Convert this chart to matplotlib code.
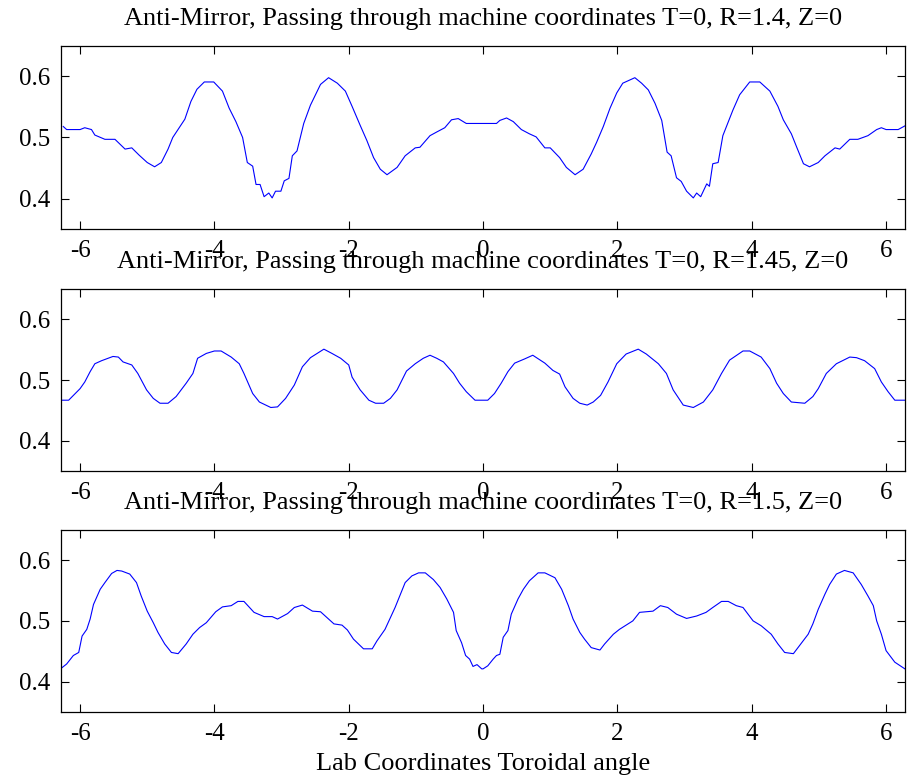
import matplotlib
matplotlib.use("Agg")
import matplotlib.pyplot as plt

# Curva R=1.4
ang_r140 = [-6.25, -6.20, -6.00, -5.93, -5.83, -5.78, -5.63, -5.48, -5.33, -5.23,
            -5.12, -5.00, -4.89, -4.79, -4.69, -4.62, -4.44, -4.35, -4.26, -4.15,
            -4.01, -3.88, -3.78, -3.68, -3.58, -3.51, -3.43, -3.38, -3.32, -3.26,
            -3.19, -3.14, -3.09, -3.01, -2.96, -2.89, -2.84, -2.77, -2.67, -2.57,
            -2.42, -2.30, -2.17, -2.05, -1.95, -1.83, -1.73, -1.63, -1.53, -1.43,
            -1.28, -1.16, -1.01, -0.94, -0.79, -0.69, -0.57, -0.47, -0.37, -0.25,
            0.00, 0.20, 0.25, 0.35, 0.45, 0.57, 0.69, 0.79, 0.92, 1.00,
            1.14, 1.24, 1.37, 1.49, 1.61, 1.69, 1.79, 1.89, 1.99, 2.08,
            2.26, 2.36, 2.46, 2.56, 2.66, 2.74, 2.80, 2.88, 2.95, 3.03,
            3.13, 3.18, 3.24, 3.33, 3.37, 3.42, 3.50, 3.57, 3.72, 3.82,
            3.97, 4.12, 4.27, 4.39, 4.47, 4.59, 4.67, 4.77, 4.86, 4.99,
            5.09, 5.24, 5.31, 5.46, 5.58, 5.73, 5.86, 5.93, 6.00, 6.18, 6.28]
val_r140 = [0.518, 0.513, 0.513, 0.516, 0.513, 0.504, 0.497, 0.497, 0.481, 0.483,
            0.471, 0.459, 0.452, 0.459, 0.481, 0.500, 0.530, 0.559, 0.579, 0.591,
            0.591, 0.576, 0.548, 0.526, 0.500, 0.459, 0.453, 0.423, 0.423, 0.403,
            0.409, 0.401, 0.412, 0.412, 0.429, 0.433, 0.470, 0.478, 0.523, 0.553,
            0.587, 0.598, 0.589, 0.576, 0.551, 0.520, 0.495, 0.467, 0.448, 0.439,
            0.451, 0.470, 0.483, 0.484, 0.503, 0.509, 0.516, 0.529, 0.531, 0.523,
            0.523, 0.523, 0.528, 0.532, 0.526, 0.513, 0.506, 0.501, 0.483, 0.483,
            0.467, 0.451, 0.439, 0.448, 0.473, 0.492, 0.518, 0.548, 0.573, 0.589,
            0.598, 0.589, 0.578, 0.556, 0.528, 0.476, 0.470, 0.434, 0.428, 0.412,
            0.401, 0.409, 0.403, 0.424, 0.420, 0.457, 0.459, 0.503, 0.545, 0.570,
            0.591, 0.591, 0.576, 0.551, 0.529, 0.506, 0.484, 0.457, 0.452, 0.459,
            0.470, 0.483, 0.481, 0.497, 0.497, 0.503, 0.513, 0.516, 0.513, 0.513, 0.519]

# Curva R=1.45
ang_r145 = [-6.28, -6.17, -6.00, -5.93, -5.85, -5.78, -5.68, -5.51, -5.43, -5.36,
            -5.23, -5.14, -5.01, -4.91, -4.81, -4.69, -4.57, -4.42, -4.32, -4.25,
            -4.12, -4.00, -3.90, -3.75, -3.63, -3.56, -3.43, -3.33, -3.16, -3.06,
            -2.94, -2.81, -2.69, -2.57, -2.37, -2.25, -2.12, -2.00, -1.95, -1.83,
            -1.70, -1.60, -1.48, -1.38, -1.28, -1.14, -1.01, -0.89, -0.79, -0.69,
            -0.59, -0.44, -0.35, -0.25, -0.12, 0.00, 0.07, 0.17, 0.27, 0.37,
            0.47, 0.62, 0.74, 0.92, 1.04, 1.14, 1.22, 1.34, 1.44, 1.55,
            1.64, 1.75, 1.86, 1.99, 2.13, 2.31, 2.43, 2.61, 2.73, 2.83,
            2.98, 3.13, 3.28, 3.42, 3.55, 3.67, 3.87, 3.97, 4.14, 4.27,
            4.37, 4.47, 4.59, 4.79, 4.91, 4.99, 5.11, 5.26, 5.46, 5.56,
            5.68, 5.83, 5.93, 6.03, 6.13, 6.28]
val_r145 = [0.467, 0.467, 0.486, 0.497, 0.514, 0.527, 0.532, 0.539, 0.538, 0.530,
            0.525, 0.511, 0.484, 0.470, 0.462, 0.462, 0.473, 0.495, 0.511, 0.536,
            0.544, 0.548, 0.548, 0.538, 0.527, 0.511, 0.478, 0.464, 0.455, 0.456,
            0.470, 0.492, 0.522, 0.537, 0.551, 0.544, 0.536, 0.525, 0.505, 0.484,
            0.467, 0.462, 0.462, 0.470, 0.484, 0.515, 0.527, 0.536, 0.541, 0.536,
            0.530, 0.511, 0.495, 0.481, 0.467, 0.467, 0.467, 0.478, 0.495, 0.514,
            0.528, 0.535, 0.541, 0.528, 0.516, 0.510, 0.489, 0.470, 0.462, 0.459,
            0.464, 0.475, 0.497, 0.527, 0.543, 0.551, 0.543, 0.527, 0.511, 0.484,
            0.459, 0.455, 0.464, 0.484, 0.511, 0.533, 0.548, 0.548, 0.538, 0.519,
            0.495, 0.478, 0.464, 0.462, 0.473, 0.486, 0.511, 0.527, 0.538, 0.537,
            0.532, 0.519, 0.497, 0.481, 0.467, 0.467]

# Curva R=1.5
ang_r150 = [-6.28, -6.20, -6.10, -6.02, -5.97, -5.90, -5.85, -5.80, -5.70, -5.63,
            -5.53, -5.45, -5.38, -5.26, -5.16, -5.09, -5.00, -4.91, -4.84, -4.74,
            -4.64, -4.54, -4.42, -4.32, -4.22, -4.12, -3.98, -3.88, -3.75, -3.65,
            -3.56, -3.41, -3.26, -3.14, -3.06, -2.91, -2.81, -2.69, -2.54, -2.42,
            -2.32, -2.22, -2.10, -2.02, -1.93, -1.78, -1.65, -1.58, -1.46, -1.38,
            -1.31, -1.23, -1.16, -1.06, -0.96, -0.86, -0.74, -0.64, -0.54, -0.44,
            -0.40, -0.32, -0.26, -0.20, -0.15, -0.09, -0.02, 0.00, 0.07, 0.15,
            0.20, 0.25, 0.30, 0.37, 0.42, 0.52, 0.60, 0.69, 0.82, 0.92,
            1.07, 1.17, 1.27, 1.34, 1.44, 1.51, 1.61, 1.74, 1.81, 1.94,
            2.03, 2.16, 2.23, 2.33, 2.53, 2.64, 2.75, 2.88, 3.03, 3.18,
            3.32, 3.42, 3.55, 3.65, 3.77, 3.87, 4.02, 4.14, 4.29, 4.39,
            4.49, 4.62, 4.71, 4.84, 4.91, 4.99, 5.09, 5.16, 5.26, 5.38,
            5.51, 5.63, 5.73, 5.81, 5.86, 5.93, 6.00, 6.13, 6.28]
val_r150 = [0.422, 0.429, 0.443, 0.448, 0.475, 0.486, 0.503, 0.527, 0.552, 0.563,
            0.578, 0.583, 0.582, 0.577, 0.563, 0.541, 0.516, 0.497, 0.481, 0.462,
            0.448, 0.446, 0.462, 0.478, 0.489, 0.497, 0.515, 0.523, 0.525, 0.532,
            0.532, 0.514, 0.507, 0.507, 0.503, 0.512, 0.522, 0.526, 0.516, 0.515,
            0.505, 0.495, 0.493, 0.485, 0.470, 0.454, 0.454, 0.467, 0.486, 0.505,
            0.522, 0.544, 0.563, 0.574, 0.579, 0.579, 0.568, 0.555, 0.536, 0.514,
            0.484, 0.464, 0.443, 0.437, 0.425, 0.428, 0.421, 0.421, 0.426, 0.437,
            0.443, 0.445, 0.473, 0.484, 0.511, 0.536, 0.552, 0.566, 0.579, 0.579,
            0.571, 0.552, 0.525, 0.503, 0.481, 0.470, 0.456, 0.452, 0.462, 0.478,
            0.486, 0.495, 0.500, 0.514, 0.516, 0.525, 0.522, 0.511, 0.504, 0.508,
            0.514, 0.522, 0.532, 0.532, 0.525, 0.522, 0.500, 0.492, 0.478, 0.462,
            0.448, 0.446, 0.459, 0.478, 0.495, 0.519, 0.544, 0.560, 0.577, 0.583,
            0.579, 0.560, 0.541, 0.525, 0.500, 0.478, 0.451, 0.432, 0.421]

titulos = [
    "Anti-Mirror, Passing through machine coordinates T=0, R=1.4, Z=0",
    "Anti-Mirror, Passing through machine coordinates T=0, R=1.45, Z=0",
    "Anti-Mirror, Passing through machine coordinates T=0, R=1.5, Z=0",
]
xticks = [-6, -4, -2, 0, 2, 4, 6]
yticks = [0.4, 0.5, 0.6]

plt.rcParams["font.family"] = ["Liberation Serif", "DejaVu Serif"]
plt.rcParams["axes.unicode_minus"] = False

fig = plt.figure(figsize=(9.07, 7.79), dpi=100)

# posiciones de los tres paneles (fracciones de la figura)
pos = [
    [0.0673, 0.706, 0.9306, 0.235],
    [0.0673, 0.395, 0.9306, 0.234],
    [0.0673, 0.086, 0.9306, 0.234],
]
curvas = [(ang_r140, val_r140), (ang_r145, val_r145), (ang_r150, val_r150)]

for i in range(3):
    ax = fig.add_axes(pos[i])
    x, y = curvas[i]
    ax.plot(x, y, color="#0000ff", linewidth=0.8)
    ax.set_xlim(-6.2832, 6.2832)
    ax.set_ylim(0.35, 0.65)
    ax.set_xticks(xticks)
    ax.set_yticks(yticks)
    ax.tick_params(direction="in", length=6, width=0.8, top=True, right=True,
                   labelsize=18, pad=8)
    for s in ax.spines.values():
        s.set_linewidth(0.9)
    ax.set_title(titulos[i], fontsize=19, pad=15)

ax.set_xlabel("Lab Coordinates Toroidal angle", fontsize=19, labelpad=6)

fig.savefig("out.png", dpi=100)
